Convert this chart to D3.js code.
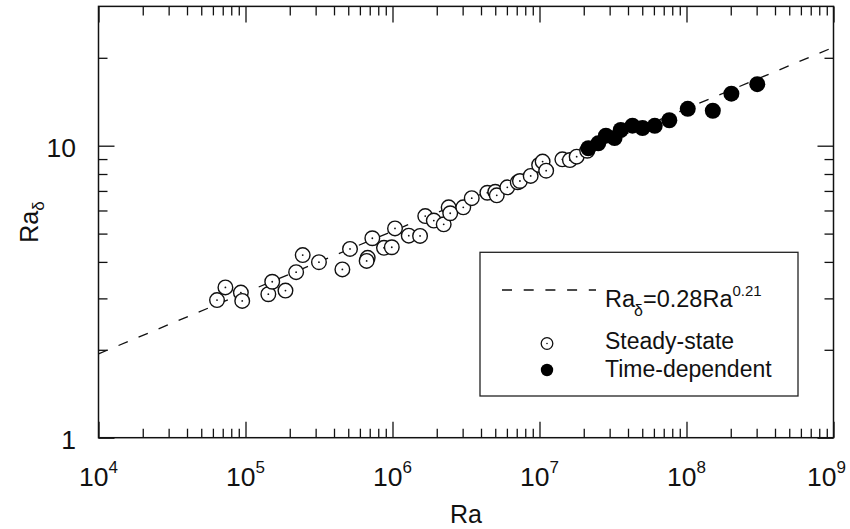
<!DOCTYPE html>
<html>
<head>
<meta charset="utf-8">
<script src="https://cdn.jsdelivr.net/npm/d3@7"></script>
<style>
  body { margin: 0; background: #fff; }
  svg text { font-family: "Liberation Sans", Arial, Helvetica, sans-serif; fill: #111; }
</style>
</head>
<body>
<svg></svg>
<script>
// ----- Data ----- //
var steadyRa = [6.4e4, 7.3e4, 9.3e4, 9.5e4, 1.43e5, 1.52e5, 1.87e5, 2.21e5, 2.45e5, 3.16e5,
  4.56e5, 5.14e5, 6.78e5, 6.67e5, 7.29e5, 8.75e5, 9.89e5, 1.04e6, 1.29e6, 1.54e6,
  1.67e6, 1.91e6, 2.23e6, 2.41e6, 2.47e6, 3.03e6, 3.46e6, 4.42e6, 5.0e6, 5.12e6,
  6.04e6, 7.11e6, 7.36e6, 8.71e6, 9.94e6, 1.05e7, 1.11e7, 1.43e7, 1.61e7, 1.79e7, 2.11e7];
var steadyRaD = [2.96, 3.27, 3.14, 2.94, 3.10, 3.42, 3.19, 3.69, 4.22, 3.99,
  3.77, 4.43, 4.13, 4.03, 4.82, 4.47, 4.49, 5.21, 4.92, 4.91,
  5.74, 5.54, 5.38, 6.15, 5.87, 6.15, 6.61, 6.90, 6.95, 6.76,
  7.20, 7.49, 7.57, 7.88, 8.59, 8.82, 8.21, 8.98, 8.93, 9.17, 9.61];

var timeRa = [2.15e7, 2.51e7, 2.83e7, 3.24e7, 3.57e7, 4.29e7, 5.02e7, 6.08e7, 7.64e7,
  1.02e8, 1.51e8, 2.02e8, 3.03e8];
var timeRaD = [9.80, 10.19, 10.82, 10.62, 11.32, 11.71, 11.50, 11.70, 12.22,
  13.37, 13.17, 15.07, 16.24];

// fit Ra_d = 0.28 Ra^0.21
var fitCoef = 0.28;
var fitExp = 0.21;
var fitRange = [1e4, 1e9];

var xExponents = [4, 5, 6, 7, 8, 9];
var yTickLabels = [1, 10];

// ----- SVG settings ----- //
var svgWidth = 850;
var svgHeight = 529;
var plot = {left: 98.5, right: 833.5, bottom: 437.7};

var svg = d3.select("svg")
  .attr('width', svgWidth)
  .attr('height', svgHeight);

var x = d3.scaleLog().domain([1e4, 1e9]).range([plot.left, plot.right]);
var y = d3.scaleLog().domain([1, 30]).range([plot.bottom, plot.bottom - 292 * Math.log10(30)]);
plot.top = y(30);

var fontTick = 26.5;

drawAxes();
drawFit();
drawPoints();
drawLabels();
drawLegend();

// ==================== Helper functions ==================== //

function isMajor(v) {
  var l = Math.log10(v);
  return Math.abs(l - Math.round(l)) < 1e-9;
}

function drawAxes() {
  var xt = x.ticks();
  var yt = y.ticks();
  var xMaj = xt.filter(isMajor), xMin = xt.filter(function(d) { return !isMajor(d); });
  var yMaj = yt.filter(isMajor), yMin = yt.filter(function(d) { return !isMajor(d) && d < 30; });

  var axes = [
    [d3.axisBottom, x, xMaj, xMin, translate(0, plot.bottom)],
    [d3.axisTop, x, xMaj, xMin, translate(0, plot.top)],
    [d3.axisLeft, y, yMaj, yMin, translate(plot.left, 0)],
    [d3.axisRight, y, yMaj, yMin, translate(plot.right, 0)]
  ];
  axes.forEach(function(a) {
    [[a[2], 16], [a[3], 9]].forEach(function(t) {
      var g = svg.append('g')
        .attr('transform', a[4])
        .call(a[0](a[1]).tickValues(t[0]).tickSize(-t[1]).tickFormat(''));
      g.select('.domain').remove();
      g.selectAll('line').attr('stroke', '#111').attr('stroke-width', 1.3);
    });
  });

  svg.append('rect')
    .attr('x', plot.left)
    .attr('y', plot.top)
    .attr('width', plot.right - plot.left)
    .attr('height', plot.bottom - plot.top)
    .attr('fill', 'none')
    .attr('stroke', '#111')
    .attr('stroke-width', 1.5);
}

function drawFit() {
  var line = d3.line()
    .x(function(d) { return x(d); })
    .y(function(d) { return y(fitCoef * Math.pow(d, fitExp)); });
  svg.append('path')
    .datum(fitRange)
    .attr('d', line)
    .attr('fill', 'none')
    .attr('stroke', '#111')
    .attr('stroke-width', 1.3)
    .attr('stroke-dasharray', '10,11.7');
}

function drawPoints() {
  var steady = steadyRa.map(function(d, i) { return {ra: d, rd: steadyRaD[i]}; });
  var timeDep = timeRa.map(function(d, i) { return {ra: d, rd: timeRaD[i]}; });

  var gs = svg.append('g').selectAll('g')
    .data(steady)
    .enter()
    .append('g')
    .attr('transform', function(d) { return translate(x(d.ra), y(d.rd)); });
  gs.append('circle').attr('r', 7.3).attr('fill', '#fff').attr('stroke', '#111').attr('stroke-width', 1.4);
  gs.append('circle').attr('r', 0.9).attr('fill', '#111');

  svg.append('g').selectAll('circle')
    .data(timeDep)
    .enter()
    .append('circle')
    .attr('cx', function(d) { return x(d.ra); })
    .attr('cy', function(d) { return y(d.rd); })
    .attr('r', 8)
    .attr('fill', '#000');
}

function drawLabels() {
  // x tick labels 10^n, last one pulled in so it stays on the page
  xExponents.forEach(function(e, i) {
    var last = i === xExponents.length - 1;
    var t = svg.append('text')
      .attr('x', last ? 846 : x(Math.pow(10, e)))
      .attr('y', 485.7)
      .attr('text-anchor', last ? 'end' : 'middle')
      .style('font-size', fontTick + 'px');
    t.append('tspan').text('10');
    t.append('tspan').attr('dy', -12.5).style('font-size', '17px').text(e);
  });

  // y tick labels
  yTickLabels.forEach(function(v) {
    svg.append('text')
      .attr('x', 76)
      .attr('y', y(v) + 11.5)
      .attr('text-anchor', 'end')
      .style('font-size', fontTick + 'px')
      .text(v);
  });

  // axis titles
  svg.append('text')
    .attr('x', (plot.left + plot.right) / 2)
    .attr('y', 523)
    .attr('text-anchor', 'middle')
    .style('font-size', '25px')
    .text('Ra');

  var yl = svg.append('text')
    .attr('transform', translate(38, (plot.top + plot.bottom) / 2) + ' rotate(-90)')
    .attr('text-anchor', 'middle')
    .style('font-size', '25px');
  yl.append('tspan').text('Ra');
  yl.append('tspan').attr('dy', 6).style('font-size', '17px').text('δ');
}

function drawLegend() {
  var lg = svg.append('g');
  lg.append('rect')
    .attr('x', 480).attr('y', 252.3)
    .attr('width', 318).attr('height', 143.7)
    .attr('fill', '#fff')
    .attr('stroke', '#222')
    .attr('stroke-width', 1.3);

  lg.append('line')
    .attr('x1', 502).attr('x2', 596).attr('y1', 290).attr('y2', 290)
    .attr('stroke', '#111').attr('stroke-width', 1.3)
    .attr('stroke-dasharray', '10,11.7');

  var t = lg.append('text').attr('x', 605).attr('y', 306.7).style('font-size', '23.5px');
  t.append('tspan').text('Ra');
  t.append('tspan').attr('dy', 9).attr('dx', -1).style('font-size', '16px').text('δ');
  t.append('tspan').attr('dy', -9).text('=0.28Ra');
  t.append('tspan').attr('dy', -11).style('font-size', '15px').text('0.21');

  lg.append('circle').attr('cx', 547).attr('cy', 343.5).attr('r', 5.8)
    .attr('fill', '#fff').attr('stroke', '#111').attr('stroke-width', 1.3);
  lg.append('circle').attr('cx', 547).attr('cy', 343.5).attr('r', 0.8).attr('fill', '#111');
  lg.append('circle').attr('cx', 547).attr('cy', 370).attr('r', 6.2).attr('fill', '#000');

  lg.append('text').attr('x', 605).attr('y', 349).style('font-size', '23px').text('Steady-state');
  lg.append('text').attr('x', 605).attr('y', 376.5).style('font-size', '23px').text('Time-dependent');
}

function translate(a, b) {
  return 'translate(' + a + ',' + b + ')';
}
</script>
</body>
</html>
